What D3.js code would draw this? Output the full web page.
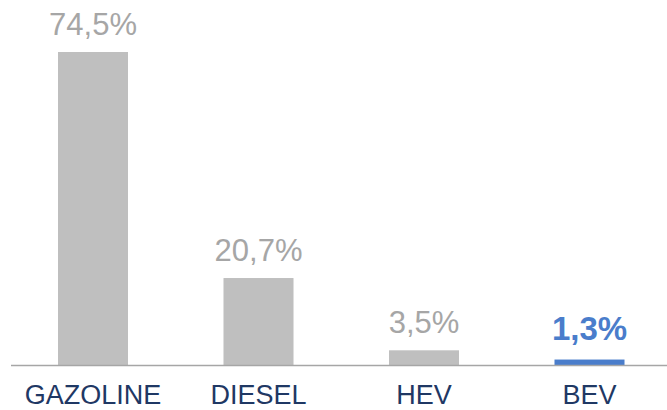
<!DOCTYPE html>
<html>
<head>
<meta charset="utf-8">
<script src="https://cdn.jsdelivr.net/npm/d3@7"></script>
<style>
  html, body { margin: 0; padding: 0; background: #fff; }
  svg { display: block; }
</style>
</head>
<body>
<svg id="chart" width="667" height="410"></svg>
<script>
const categories = ["GAZOLINE", "DIESEL", "HEV", "BEV"];
const values = [74.5, 20.7, 3.5, 1.3];
const valueLabels = ["74,5%", "20,7%", "3,5%", "1,3%"];
const highlight = [false, false, false, true];

const svg = d3.select("#chart");
const baseline = 365;

const x = d3.scaleBand()
  .domain(categories)
  .range([10.25, 672.25])
  .paddingInner(0.577)
  .paddingOuter(0.2885);

const y = d3.scaleLinear()
  .domain([0, 74.5])
  .range([baseline, 52]);

const data = categories.map((c, i) => ({ c, v: values[i], label: valueLabels[i], hl: highlight[i] }));

svg.selectAll("rect.bar")
  .data(data)
  .join("rect")
  .attr("class", "bar")
  .attr("x", d => x(d.c))
  .attr("width", x.bandwidth())
  .attr("y", d => y(d.v))
  .attr("height", d => baseline - y(d.v))
  .attr("fill", d => d.hl ? "#4a7dcb" : "#bfbfbf");

// axis line
svg.append("line")
  .attr("x1", 11).attr("x2", 667)
  .attr("y1", baseline + 0.5).attr("y2", baseline + 0.5)
  .attr("stroke", "#a6a6a6")
  .attr("stroke-width", 1.5);

// value labels
svg.selectAll("text.val")
  .data(data)
  .join("text")
  .attr("class", "val")
  .attr("x", d => x(d.c) + x.bandwidth() / 2)
  .attr("y", d => d.hl ? y(d.v) - 20 : y(d.v) - 17)
  .attr("text-anchor", "middle")
  .attr("font-family", "'Liberation Sans', Arial, sans-serif")
  .attr("font-size", d => d.hl ? 33 : 31)
  .attr("font-weight", d => d.hl ? "bold" : "normal")
  .attr("fill", d => d.hl ? "#4a7dcb" : "#a6a6a6")
  .text(d => d.label);

// category labels
const xAxis = d3.axisBottom(x).tickSize(0).tickPadding(0);
const gx = svg.append("g")
  .attr("transform", `translate(0, ${baseline})`)
  .call(xAxis);
gx.select(".domain").remove();
gx.selectAll("text")
  .attr("dy", null)
  .attr("y", 39)
  .attr("font-family", "'Liberation Sans', Arial, sans-serif")
  .attr("font-size", 27)
  .attr("fill", "#1f3864");
</script>
</body>
</html>
